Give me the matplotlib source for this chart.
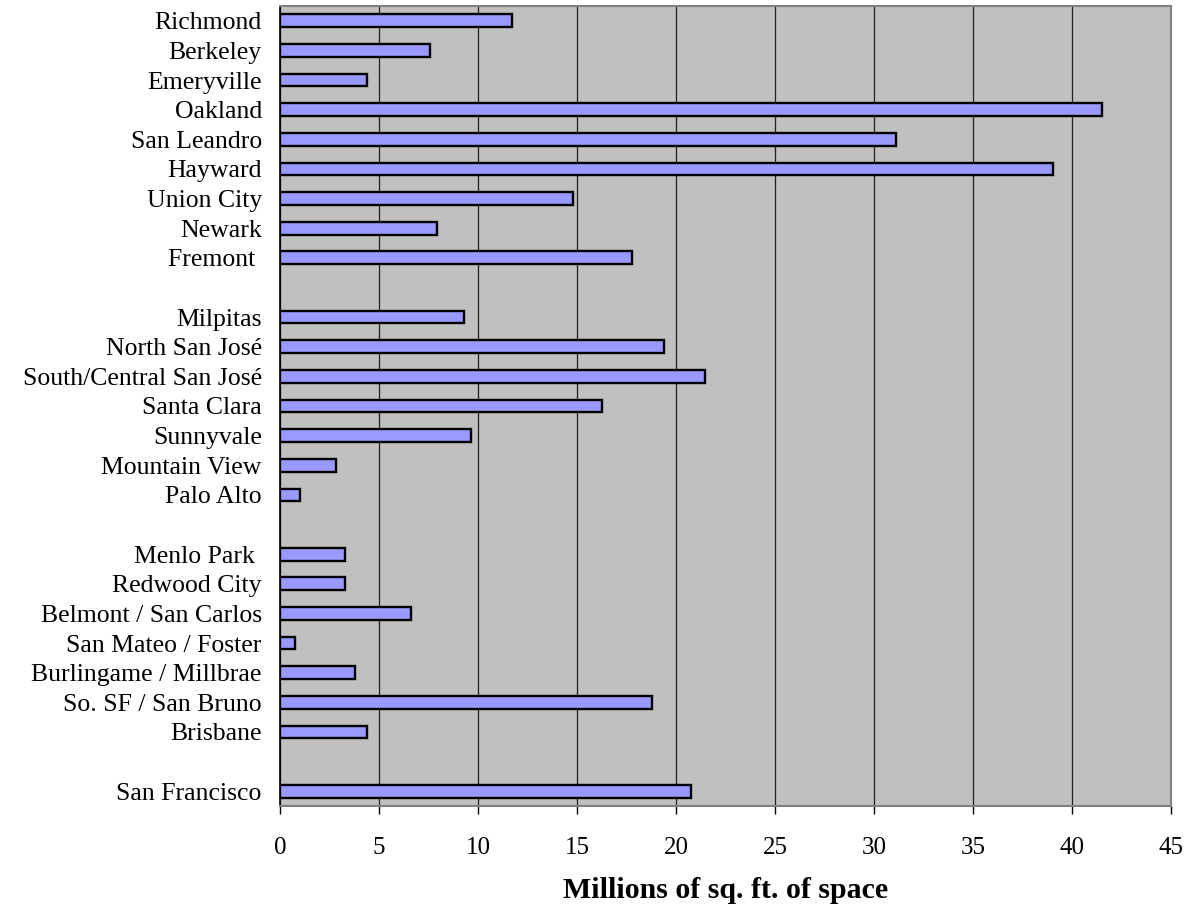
import numpy as np
import matplotlib.pyplot as plt

# East Bay, Silicon Valley, Peninsula, SF (top to bottom)
east_bay = ['Richmond', 'Berkeley', 'Emeryville', 'Oakland', 'San Leandro',
            'Hayward', 'Union City', 'Newark', 'Fremont ']
east_bay_vals = [11.7, 7.6, 4.4, 41.5, 31.1, 39.05, 14.8, 7.95, 17.8]

south_bay = ['Milpitas', 'North San José', 'South/Central San José', 'Santa Clara',
             'Sunnyvale', 'Mountain View', 'Palo Alto']
south_bay_vals = [9.3, 19.4, 21.45, 16.25, 9.65, 2.85, 1.0]

peninsula = ['Menlo Park ', 'Redwood City', 'Belmont / San Carlos', 'San Mateo / Foster',
             'Burlingame / Millbrae', 'So. SF / San Bruno', 'Brisbane']
peninsula_vals = [3.3, 3.3, 6.6, 0.75, 3.8, 18.8, 4.4]

sf = ['San Francisco']
sf_vals = [20.75]

groups = [(east_bay, east_bay_vals), (south_bay, south_bay_vals),
          (peninsula, peninsula_vals), (sf, sf_vals)]

labels, values, pos = [], [], []
row = 0
for names, vals in groups:
    for n, v in zip(names, vals):
        labels.append(n)
        values.append(v)
        pos.append(row)
        row += 1
    row += 1  # blank slot between groups
nrows = row - 1

plt.rcParams['font.family'] = ['Liberation Serif', 'DejaVu Serif']

fig = plt.figure(figsize=(11.86, 9.18), dpi=100)
ax = fig.add_axes([0.236, 0.122, 0.7514, 0.8715])
ax.set_facecolor('#C0C0C0')

ax.barh(pos, values, height=0.43, color='#9999FF', edgecolor='black', linewidth=1.7, zorder=3)

ax.set_ylim(nrows - 0.5, -0.5)
ax.set_xlim(0, 45)
ax.set_xticks(np.arange(0, 46, 5))
ax.set_yticks(pos)
ax.set_yticklabels(labels, fontsize=18.5)
ax.tick_params(axis='y', length=0, pad=13)
ax.tick_params(axis='x', labelsize=18, length=6, width=1, pad=16, direction='out')

ax.grid(axis='x', color='#202020', linewidth=0.9, zorder=1)
ax.set_axisbelow(True)

for s in ['top', 'right', 'bottom']:
    ax.spines[s].set_color('#808080')
    ax.spines[s].set_linewidth(1.5)
ax.spines['left'].set_color('black')
ax.spines['left'].set_linewidth(1.2)

ax.set_xlabel('Millions of sq. ft. of space', fontsize=21.5, fontweight='bold', labelpad=13)

fig.savefig('out.png', dpi=100)
